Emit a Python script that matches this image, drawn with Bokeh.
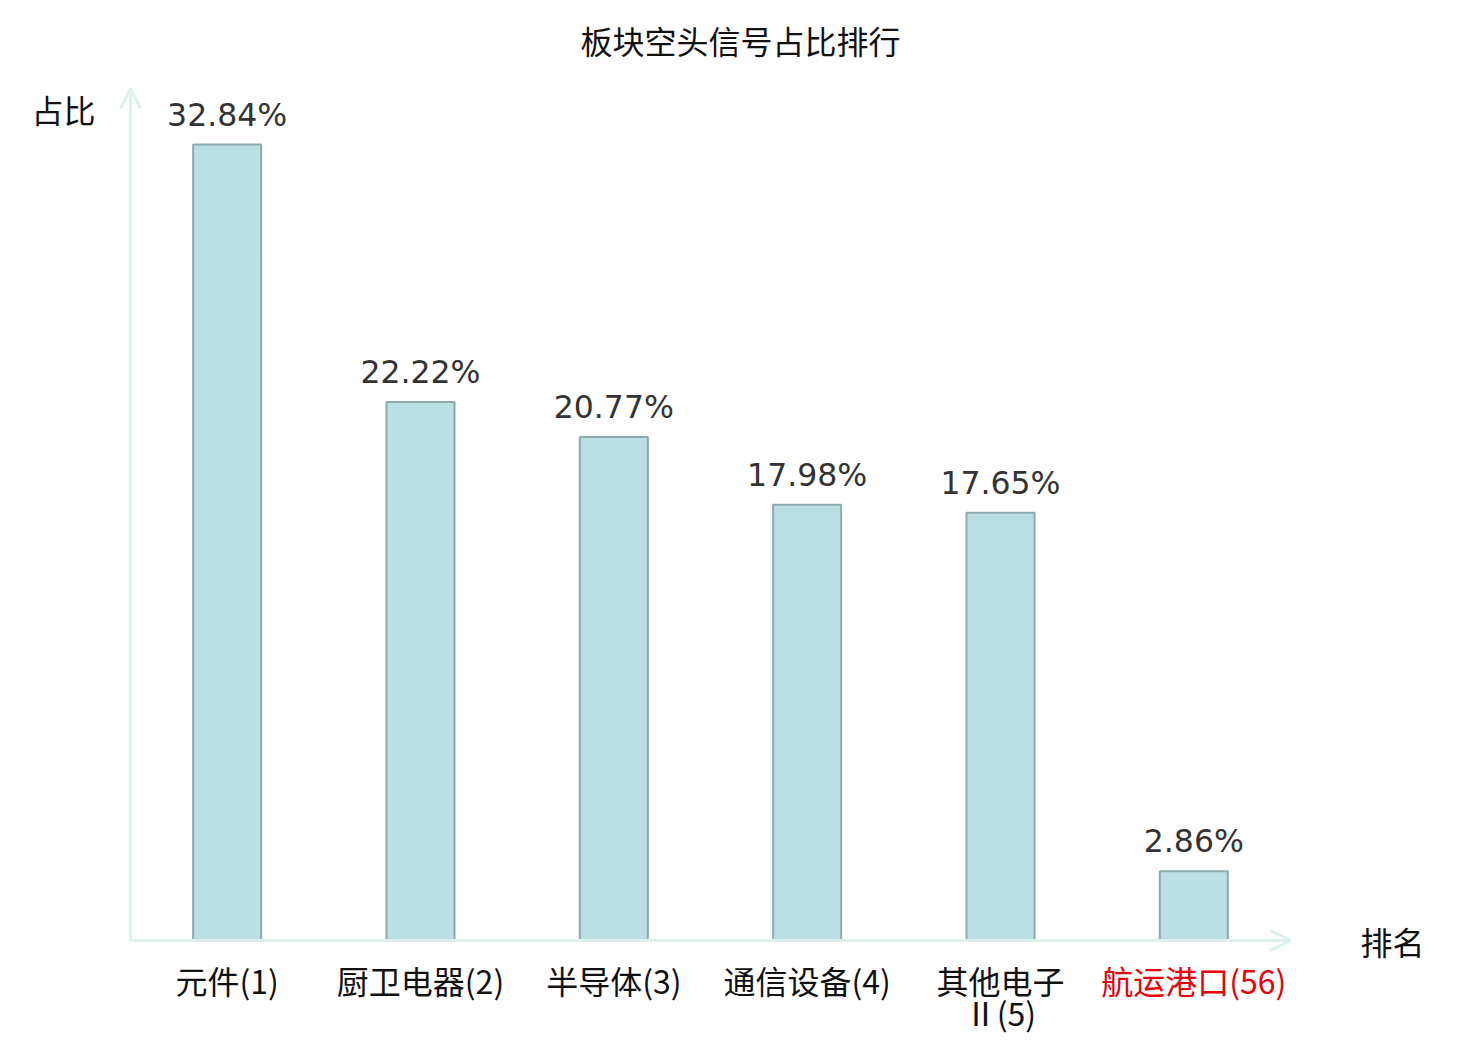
from bokeh.plotting import figure
from bokeh.models import Range1d, ColumnDataSource, Arrow, OpenHead, Label
from bokeh.core.properties import value
from bokeh.embed import file_html
from bokeh.resources import INLINE

title_text = "板块空头信号占比排行"
y_name = "占比"
x_name = "排名"
categories = ["元件(1)", "厨卫电器(2)", "半导体(3)", "通信设备(4)", "其他电子\nⅡ(5)", "航运港口(56)"]
shares = [32.84, 22.22, 20.77, 17.98, 17.65, 2.86]
label_colors = ["#111111", "#111111", "#111111", "#111111", "#111111", "#e8000b"]

W, H = 1472, 1034
X0 = 130.0            # canvas px where category axis starts
BAND = 1160.0 / 6     # px per category
Y0 = 940.0            # canvas px (from top) of zero line
PPU = 796.0 / 32.84   # px per percent

def dx(px):
    return (px - X0) / BAND

def dy(py):
    return (Y0 - py) / PPU

xs = [i + 0.5 for i in range(len(categories))]
src = ColumnDataSource(dict(
    x=xs, top=shares,
    vlabel=["%.2f%%" % v for v in shares],
    cat=categories, col=label_colors,
))

p = figure(width=W, height=H, output_backend="svg", toolbar_location=None,
           x_range=Range1d(dx(0), dx(W)), y_range=Range1d(dy(H), dy(0)),
           min_border=0, min_border_left=0, min_border_right=0,
           min_border_top=0, min_border_bottom=0)
p.axis.visible = False
p.grid.visible = False
p.outline_line_color = None
p.background_fill_color = "white"
p.border_fill_color = "white"

axis_col = "#dcf1ee"
n = len(categories)
p.add_layout(Arrow(x_start=0, y_start=0, x_end=0, y_end=dy(88),
                   line_color=axis_col, line_width=3,
                   end=OpenHead(size=20, line_color=axis_col, line_width=3)))
p.add_layout(Arrow(x_start=0, y_start=0, x_end=n, y_end=0,
                   line_color=axis_col, line_width=3,
                   end=OpenHead(size=20, line_color=axis_col, line_width=3)))

p.vbar(x="x", top="top", bottom=0, width=0.352, source=src,
       fill_color="#bbe0e3", line_color="#8eaaab", line_width=2)

p.text(x="x", y="top", text="vlabel", source=src, y_offset=-30,
       text_align="center", text_baseline="alphabetic",
       text_font=value("DejaVu Sans"), text_font_size="31.5px", text_color="#333333")

p.text(x="x", y=0, text="cat", source=src, y_offset=16,
       text_align="center", text_baseline="top", text_line_height=0.7,
       text_font=value("DejaVu Sans ExtraLight, Noto Sans CJK SC"),
       text_font_size="32px", text_color="col")

p.add_layout(Label(x=dx(740), y=dy(39), text=title_text, text_align="center",
                   text_baseline="middle", text_font="Noto Sans CJK SC",
                   text_font_size="32px", text_color="#111111"))
p.add_layout(Label(x=dx(63), y=dy(108), text=y_name, text_align="center",
                   text_baseline="middle", text_font="Noto Sans CJK SC",
                   text_font_size="32px", text_color="#111111"))
p.add_layout(Label(x=dx(1392), y=dy(940), text=x_name, text_align="center",
                   text_baseline="middle", text_font="Noto Sans CJK SC",
                   text_font_size="32px", text_color="#111111"))

open("out.html", "w").write(file_html(p, INLINE))
